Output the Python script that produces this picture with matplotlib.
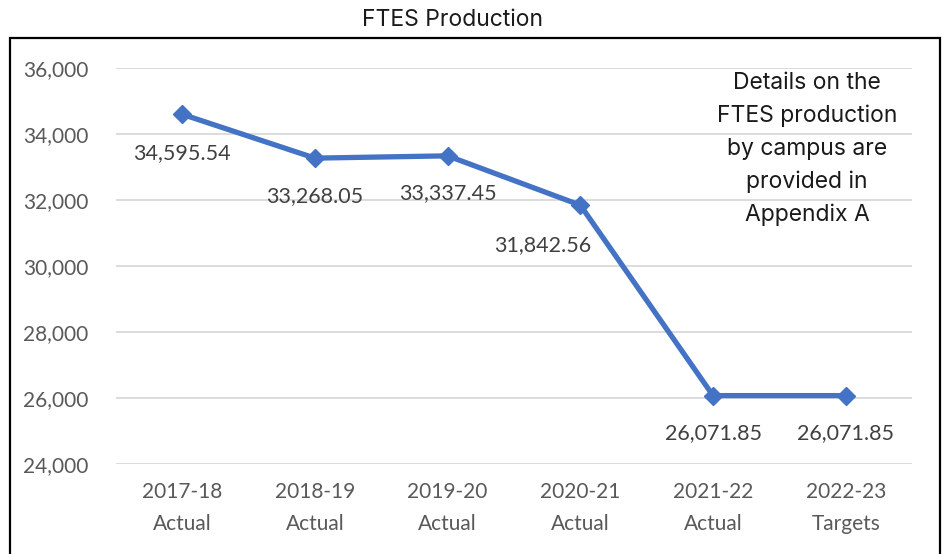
import matplotlib.pyplot as plt
from matplotlib.patches import Rectangle
from matplotlib.ticker import FuncFormatter

# values
years = ['2017-18\nActual', '2018-19\nActual', '2019-20\nActual',
         '2020-21\nActual', '2021-22\nActual', '2022-23\nTargets']
ftes = [34595.54, 33268.05, 33337.45, 31842.56, 26071.85, 26071.85]
labels = ['34,595.54', '33,268.05', '33,337.45', '31,842.56', '26,071.85', '26,071.85']
# label offsets (points) relative to each marker
offsets = [(0, -28), (0, -27), (0, -27), (-27, -29), (0, -27), (0, -27)]

tickFont = 'Lato'
noteFont = 'Inter'
grey = '#595959'
blue = '#4472C4'

fig = plt.figure(figsize=(9.42, 5.54), dpi=100)
ax = fig.add_axes([0.1231, 0.1625, 0.8451, 0.7148])

x = list(range(len(years)))
ax.plot(x, ftes, color=blue, linewidth=3.8, marker='D', markersize=9, zorder=3)

for i in x:
    ax.annotate(labels[i], (i, ftes[i]), xytext=offsets[i], textcoords='offset points',
                ha='center', va='center', fontsize=15.5, color='#404040', family=tickFont)

ax.set_xlim(-0.5, 5.5)
ax.set_ylim(24000, 36000)
ax.set_yticks(range(24000, 36001, 2000))
ax.yaxis.set_major_formatter(FuncFormatter(lambda v, p: '{:,.0f}'.format(v)))
ax.set_xticks(x)
ax.set_xticklabels(years, linespacing=1.75)

for s in ax.spines.values():
    s.set_visible(False)
ax.grid(axis='y', color='#D9D9D9', linewidth=1.3)
ax.set_axisbelow(True)
ax.tick_params(length=0, labelsize=15, labelcolor=grey)
ax.tick_params(axis='x', pad=13)
ax.tick_params(axis='y', pad=20)
for t in ax.get_xticklabels() + ax.get_yticklabels():
    t.set_family(tickFont)

ax.text(0.868, 0.795, 'Details on the\nFTES production\nby campus are\nprovided in\nAppendix A',
        transform=ax.transAxes, ha='center', va='center', fontsize=16.5,
        color='#1a1a1a', family=noteFont, linespacing=1.62)

# outer frame and title
fig.patches.append(Rectangle((10 / 942, -0.05), 930 / 942, 1.05 - 38 / 554,
                             transform=fig.transFigure, fill=False,
                             edgecolor='black', linewidth=1.6))
fig.text(452 / 942, 1 - 20.5 / 554, 'FTES Production', ha='center', va='center',
         fontsize=16.5, color='#1a1a1a', family=noteFont)

fig.savefig('out.png', dpi=100)
